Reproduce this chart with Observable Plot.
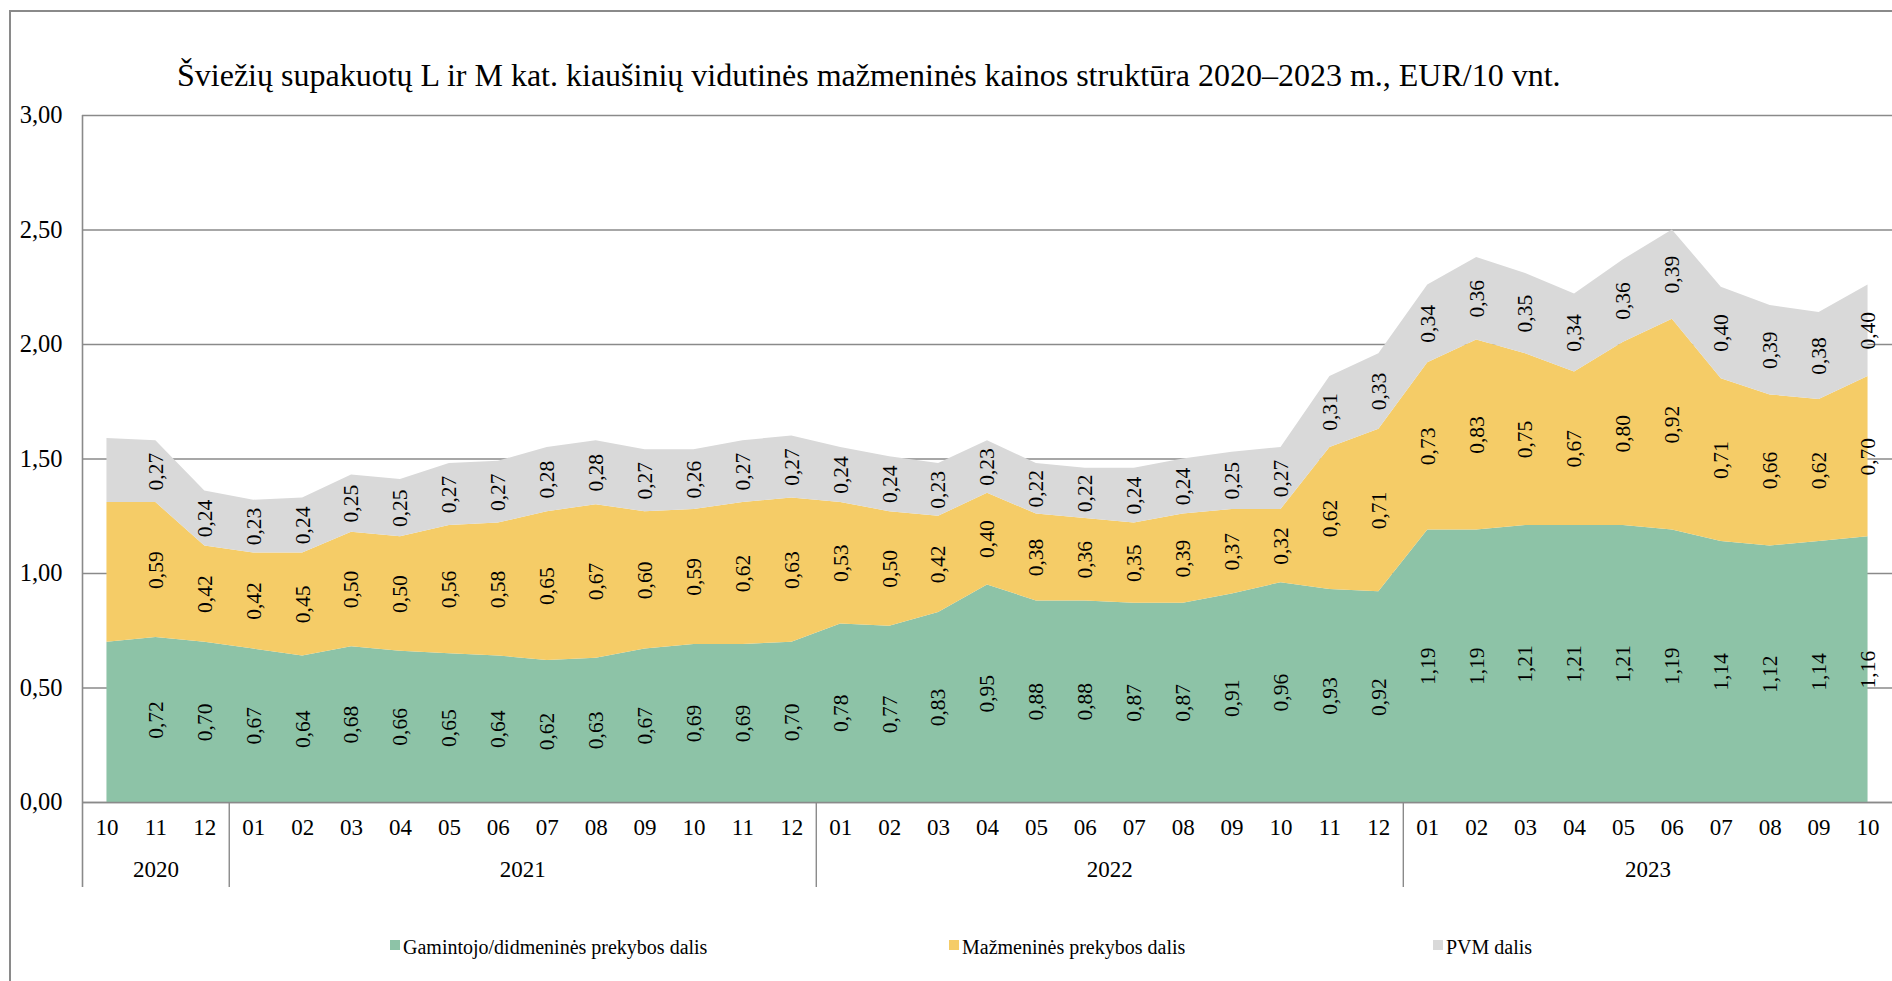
<!DOCTYPE html>
<html><head><meta charset="utf-8">
<script src="https://cdn.jsdelivr.net/npm/d3@7"></script>
<script src="https://cdn.jsdelivr.net/npm/@observablehq/plot@0.6"></script>
<style>
html,body{margin:0;padding:0;background:#fff;overflow:hidden;width:1892px;height:981px;}
#wrap{position:relative;width:1892px;height:981px;font-family:"Liberation Serif","Times New Roman",serif;color:#000;overflow:hidden;}
#frame{position:absolute;left:9px;top:10px;width:3000px;height:3000px;border:2px solid #8a8a8a;pointer-events:none;}
#title{position:absolute;left:177px;top:59px;font-size:32px;line-height:32px;white-space:nowrap;}
#chart{position:absolute;left:0;top:0;}
.leg{position:absolute;top:937px;font-size:20px;line-height:20px;white-space:nowrap;}
.sw{position:absolute;top:940px;width:10px;height:10px;}
</style></head><body>
<div id="wrap">
<div id="chart"></div>
<div id="title">Šviežių supakuotų L ir M kat. kiaušinių vidutinės mažmeninės kainos struktūra 2020–2023 m., EUR/10 vnt.</div>
<div id="legend"></div>
<div id="frame"></div>
</div>
<script>
// ---- data ----
const years = ["2020", "2021", "2022", "2023"];
const yearMonths = [
  ["10", "11", "12"],
  ["01", "02", "03", "04", "05", "06", "07", "08", "09", "10", "11", "12"],
  ["01", "02", "03", "04", "05", "06", "07", "08", "09", "10", "11", "12"],
  ["01", "02", "03", "04", "05", "06", "07", "08", "09", "10"]
];
const seriesNames = ["Gamintojo/didmeninės prekybos dalis", "Mažmeninės prekybos dalis", "PVM dalis"];
const seriesColors = ["#8dc3a7", "#f5cc67", "#d9d9d9"];
const producer = [0.70, 0.72, 0.70,
  0.67, 0.64, 0.68, 0.66, 0.65, 0.64, 0.62, 0.63, 0.67, 0.69, 0.69, 0.70,
  0.78, 0.77, 0.83, 0.95, 0.88, 0.88, 0.87, 0.87, 0.91, 0.96, 0.93, 0.92,
  1.19, 1.19, 1.21, 1.21, 1.21, 1.19, 1.14, 1.12, 1.14, 1.16];
const retail = [0.61, 0.59, 0.42,
  0.42, 0.45, 0.50, 0.50, 0.56, 0.58, 0.65, 0.67, 0.60, 0.59, 0.62, 0.63,
  0.53, 0.50, 0.42, 0.40, 0.38, 0.36, 0.35, 0.39, 0.37, 0.32, 0.62, 0.71,
  0.73, 0.83, 0.75, 0.67, 0.80, 0.92, 0.71, 0.66, 0.62, 0.70];
const vat = [0.28, 0.27, 0.24,
  0.23, 0.24, 0.25, 0.25, 0.27, 0.27, 0.28, 0.28, 0.27, 0.26, 0.27, 0.27,
  0.24, 0.24, 0.23, 0.23, 0.22, 0.22, 0.24, 0.24, 0.25, 0.27, 0.31, 0.33,
  0.34, 0.36, 0.35, 0.34, 0.36, 0.39, 0.40, 0.39, 0.38, 0.40];
const yTicks = [0, 0.5, 1, 1.5, 2, 2.5, 3];

// ---- derived tables ----
const fmt = v => v.toFixed(2).replace(".", ",");
const months = yearMonths.flat();
const seriesValues = [producer, retail, vat];
const long = [];
months.forEach((m, i) => {
  seriesNames.forEach((s, k) => long.push({i, series: s, value: seriesValues[k][i]}));
});
const labelData = long.filter(d => d.i > 0); // first month carries no labels in the reference
let start = 0;
const yearInfo = [];
const boundaries = [];
yearMonths.forEach((ms, k) => {
  yearInfo.push({year: years[k], center: start + (ms.length - 1) / 2});
  if (k > 0) boundaries.push(start - 0.5);
  start += ms.length;
});

const grey = "#8a8a8a";
const plot = Plot.plot({
  width: 1892,
  height: 900,
  marginTop: 115,
  marginLeft: 82,
  marginRight: 0,
  marginBottom: 98,
  x: {type: "linear", domain: [-0.5, months.length - 0.5], axis: null},
  y: {domain: [0, 3], axis: null},
  color: {domain: seriesNames, range: seriesColors},
  style: {fontFamily: "'Liberation Serif', 'Times New Roman', serif", background: "transparent", color: "#000"},
  marks: [
    Plot.ruleY(yTicks, {stroke: grey, strokeWidth: 1.4}),
    Plot.areaY(long, {x: "i", y: "value", fill: "series", curve: "linear"}),
    Plot.ruleY([0], {stroke: grey, strokeWidth: 1.6}),
    Plot.ruleX([-0.5], {stroke: grey, strokeWidth: 1.6, insetBottom: -85}),
    Plot.ruleX(boundaries, {x: d => d, y1: 0, y2: 0, stroke: grey, strokeWidth: 1.4, insetBottom: -85}),
    Plot.axisY({ticks: yTicks, tickFormat: fmt, tickSize: 0, tickPadding: 20, fontSize: 24.5, label: null}),
    Plot.text(months, {x: (d, i) => i, text: d => d, frameAnchor: "bottom", dy: 32, fontSize: 23}),
    Plot.text(yearInfo, {x: "center", text: "year", frameAnchor: "bottom", dy: 74, fontSize: 23}),
    Plot.text(labelData, Plot.stackY({x: "i", y: "value", z: "series", text: d => fmt(d.value), rotate: -90, fontSize: 21.5, fill: "#000"}))
  ]
});
document.getElementById("chart").appendChild(plot);

// legend
const legX = [390, 949, 1433];
const legend = document.getElementById("legend");
seriesNames.forEach((s, k) => {
  const sw = document.createElement("div");
  sw.className = "sw";
  sw.style.left = legX[k] + "px";
  sw.style.background = seriesColors[k];
  legend.appendChild(sw);
  const t = document.createElement("div");
  t.className = "leg";
  t.style.left = (legX[k] + 13) + "px";
  t.textContent = s;
  legend.appendChild(t);
});
</script>
</body></html>
